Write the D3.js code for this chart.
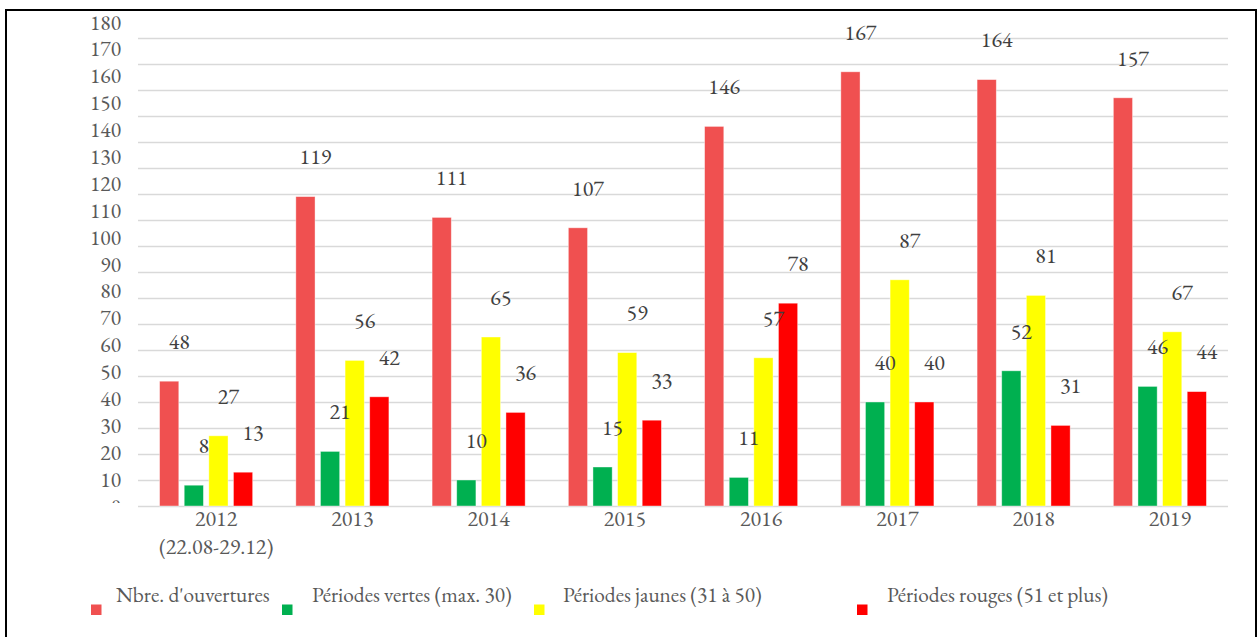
<!DOCTYPE html>
<html>
<head>
<meta charset="utf-8">
<script src="https://cdn.jsdelivr.net/npm/d3@7"></script>
<style>
  html, body { margin: 0; padding: 0; background: #fff; }
  svg { display: block; }
</style>
</head>
<body>
<svg id="chart" width="1258" height="637"></svg>
<script>
// ---- Data ----
const categories = ["2012", "2013", "2014", "2015", "2016", "2017", "2018", "2019"];
const categorySubLabels = ["(22.08-29.12)", "", "", "", "", "", "", ""];
const seriesNames = ["Nbre. d'ouvertures", "Périodes vertes (max. 30)", "Périodes jaunes (31 à 50)", "Périodes rouges (51 et plus)"];
const ouvertures = [48, 119, 111, 107, 146, 167, 164, 157];
const vertes     = [8, 21, 10, 15, 11, 40, 52, 46];
const jaunes     = [27, 56, 65, 59, 57, 87, 81, 67];
const rouges     = [13, 42, 36, 33, 78, 40, 31, 44];
const yTicks = [0, 10, 20, 30, 40, 50, 60, 70, 80, 90, 100, 110, 120, 130, 140, 150, 160, 170, 180];

// ---- Styles / layout ----
const FONT = '"EB Garamond", "Liberation Serif", serif';
const colors = ["#F05050", "#00B050", "#FFFF00", "#FF0000"];
const seriesValues = [ouvertures, vertes, jaunes, rouges];
const textShift = 10;
const legendMarkerX = [91, 282, 534, 857];
const legendTextX = [116, 312, 563, 887];

const svg = d3.select("#chart");

svg.append("rect")
  .attr("x", 6).attr("y", 10).attr("width", 1250).attr("height", 700)
  .attr("fill", "none").attr("stroke", "#000").attr("stroke-width", 2);

const x0 = d3.scaleBand().domain(categories).range([138, 1228])
  .paddingInner(0.317).paddingOuter(0.1585);
const x1 = d3.scaleBand().domain(d3.range(seriesNames.length)).range([0, x0.bandwidth()])
  .paddingInner(0.22).paddingOuter(0);
const y = d3.scaleLinear().domain([0, 180]).range([506, 38]);
const yLabel = d3.scaleLinear().domain([0, 180]).range([506, 22]);

const yAxis = d3.axisLeft(y).tickValues(yTicks).tickSize(-(1228 - 138)).tickFormat("");
const gAxis = svg.append("g").attr("transform", "translate(138,0)").call(yAxis);
gAxis.select(".domain").remove();
gAxis.selectAll(".tick line").attr("stroke", "#d9d9d9").attr("stroke-width", 1.6);

svg.append("clipPath").attr("id", "ylabclip")
  .append("rect").attr("x", 0).attr("y", 0).attr("width", 135).attr("height", 503);
svg.append("g").attr("clip-path", "url(#ylabclip)")
  .selectAll("text").data(yTicks).join("text")
  .attr("x", 121).attr("y", d => yLabel(d)).attr("dy", "0.35em")
  .attr("text-anchor", "end").attr("font-size", 21.5).attr("fill", "#595959")
  .style("font-family", FONT)
  .text(d => d);

const groups = svg.append("g").selectAll("g").data(categories).join("g")
  .attr("transform", d => `translate(${x0(d)},0)`);
groups.selectAll("rect")
  .data((c, i) => seriesValues.map((vals, s) => ({ s, v: vals[i] })))
  .join("rect")
  .attr("x", d => x1(d.s)).attr("width", x1.bandwidth())
  .attr("y", d => y(d.v)).attr("height", d => y(0) - y(d.v))
  .attr("fill", d => colors[d.s])
  .attr("stroke", "#ffffff").attr("stroke-opacity", 0.5).attr("stroke-width", 0.8);

groups.selectAll("text.val")
  .data((c, i) => seriesValues.map((vals, s) => ({ s, v: vals[i] })))
  .join("text").attr("class", "val")
  .attr("x", d => x1(d.s) + x1.bandwidth() / 2 + textShift)
  .attr("y", d => y(d.v) - 40).attr("dy", "0.35em")
  .attr("text-anchor", "middle").attr("font-size", 22).attr("fill", "#404040")
  .style("font-family", FONT)
  .text(d => d.v);

const catG = svg.append("g");
catG.selectAll("text.cat").data(categories).join("text").attr("class", "cat")
  .attr("x", d => x0(d) + x0.bandwidth() / 2 + textShift).attr("y", 518).attr("dy", "0.35em")
  .attr("text-anchor", "middle").attr("font-size", 22).attr("fill", "#595959")
  .style("font-family", FONT)
  .text(d => d);
catG.selectAll("text.sub").data(categories).join("text").attr("class", "sub")
  .attr("x", d => x0(d) + x0.bandwidth() / 2 + textShift).attr("y", 546.5).attr("dy", "0.35em")
  .attr("text-anchor", "middle").attr("font-size", 22).attr("fill", "#595959")
  .style("font-family", FONT)
  .text((d, i) => categorySubLabels[i]);

const leg = svg.append("g").selectAll("g").data(seriesNames).join("g");
leg.append("rect")
  .attr("x", (d, i) => legendMarkerX[i]).attr("y", 604.5).attr("width", 10.5).attr("height", 10.5)
  .attr("fill", (d, i) => colors[i]);
leg.append("text")
  .attr("x", (d, i) => legendTextX[i]).attr("y", 594.5).attr("dy", "0.35em")
  .attr("font-size", 21.3).attr("fill", "#595959")
  .style("font-family", FONT)
  .text(d => d);
</script>
</body>
</html>
